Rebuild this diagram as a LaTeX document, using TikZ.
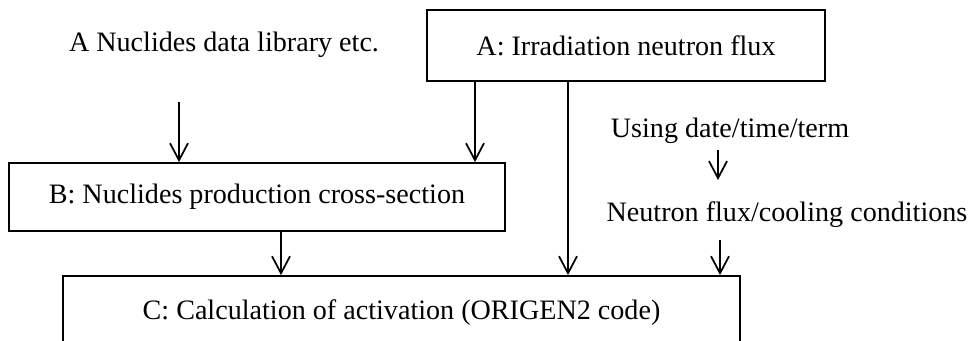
\documentclass[tikz,border=0pt]{standalone}
\usepackage{fontspec}
\setmainfont{Liberation Serif}
\usetikzlibrary{arrows.meta}

\begin{document}
\begin{tikzpicture}[
  box/.style={draw,line width=1pt,minimum height=1.4cm,font=\fontsize{16}{18}\selectfont},
  txt/.style={font=\fontsize{16}{18}\selectfont},
  arr/.style={line width=1pt,-{Straight Barb[length=3.4mm,width=3.6mm,line width=1pt]}}]
\useasboundingbox (0,0) rectangle (19.42,6.82);
\clip (0,0) rectangle (19.42,6.82);

%boxes
\node[box,minimum width=7.96cm,minimum height=1.42cm] (irr) at (12.52,5.91) {A: Irradiation neutron flux};
\node[box,minimum width=9.92cm,minimum height=1.36cm] (cross) at (5.14,2.88) {B: Nuclides production cross-section};
\node[box,minimum width=13.54cm,minimum height=1.48cm] (calc) at (8.03,0.56) {C: Calculation of activation (ORIGEN2 code)};

%texts
\node[txt] (lib) at (4.48,5.92) {A Nuclides data library etc.};
\node[txt] (term) at (14.60,4.20) {Using date/time/term};
\node[txt] (cool) at (15.74,2.52) {Neutron flux/cooling conditions};
\coordinate (libout) at (3.58,4.78);

%arrows
\draw[arr] (libout) -- (libout |- cross.north);
\draw[arr] ([xshift=-3.02cm]irr.south) -- ([xshift=-3.02cm]irr.south |- cross.north);
\draw[arr] ([xshift=-1.16cm]irr.south) -- ([xshift=-1.16cm]irr.south |- calc.north);
\draw[arr] ([xshift=0.48cm]cross.south) -- ([xshift=0.48cm]cross.south |- calc.north);
\draw[arr] (14.36,3.82) coordinate (t1) -- (14.36,3.22) coordinate (t2);
\draw[arr] (14.40,2.02) coordinate (c1) -- (c1 |- calc.north);
\end{tikzpicture}
\end{document}
